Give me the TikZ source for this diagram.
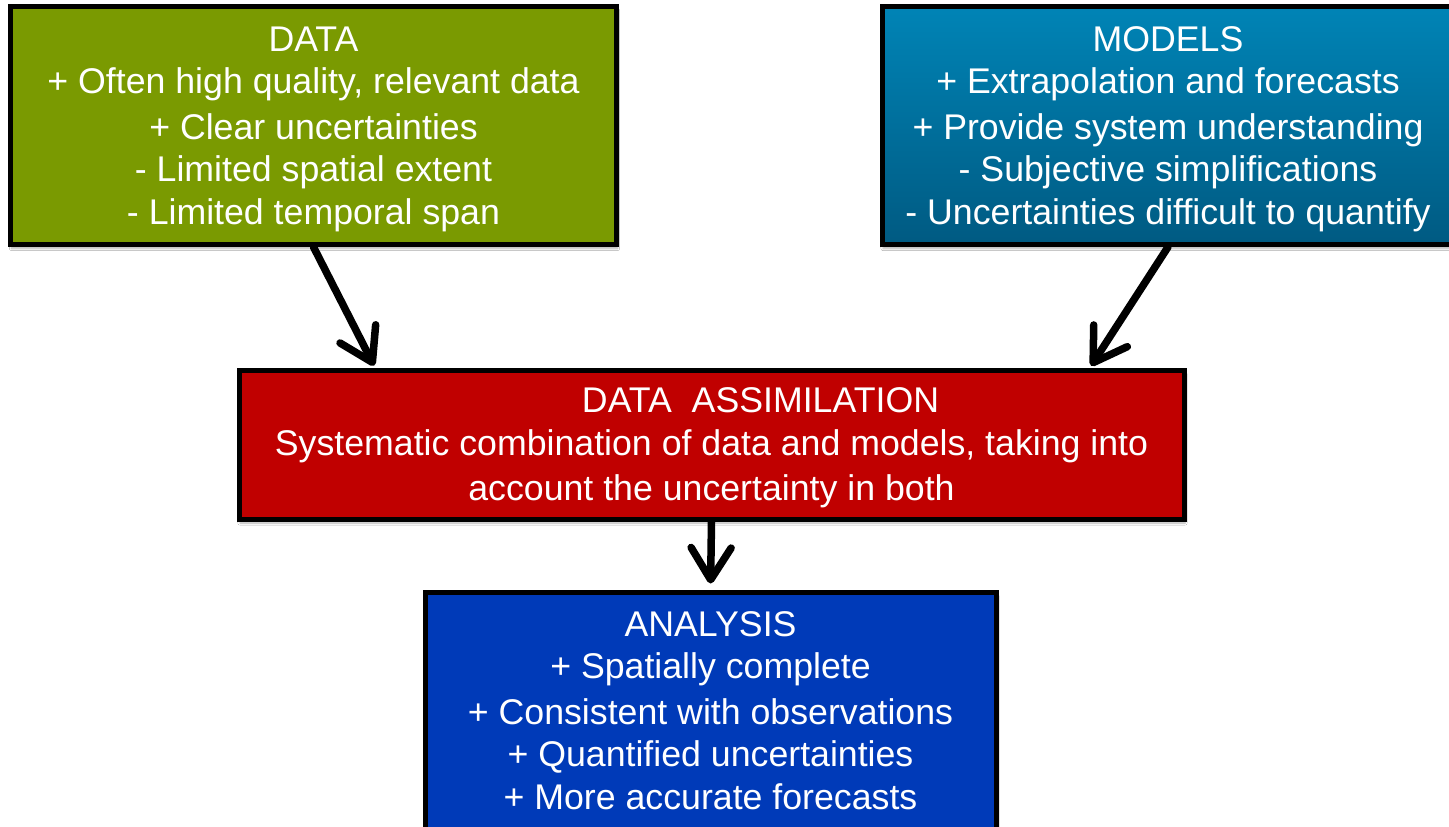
\documentclass[tikz,border=0pt]{standalone}
\usepackage{fontspec}
\setmainfont{Liberation Sans}
\usetikzlibrary{arrows.meta,shadows.blur}

\definecolor{datagreen}{HTML}{7A9A01}
\definecolor{modeltop}{HTML}{0084B6}
\definecolor{modelbot}{HTML}{005A82}
\definecolor{dared}{HTML}{C00000}
\definecolor{anblue}{HTML}{003AB8}

\tikzset{
  box/.style={rectangle, draw=black, line width=5pt, inner sep=0pt,
    text=white, align=center,
    font=\fontsize{35.7}{42.5}\selectfont,
    blur shadow={shadow xshift=1pt, shadow yshift=-4pt,
      shadow blur steps=6, shadow opacity=30}},
  flow/.style={line width=7.5pt, line cap=round, line join=round,
    -{Straight Barb[length=32pt,width=40pt,line cap=round,line join=round]}}
}

\begin{document}
\begin{tikzpicture}[x=1pt,y=-1pt]
  \useasboundingbox (0,0) rectangle (1449,827);
  \fill[white] (0,0) rectangle (1449,827);

  \node[box, fill=datagreen, minimum width=606pt, minimum height=238pt]
    (data) at (313.5,125.5)
    {DATA\\+ Often high quality, relevant data\\[3pt]+ Clear uncertainties\\
     - Limited spatial extent\\\smash{- Limited temporal span}};

  \node[box, top color=modeltop, bottom color=modelbot,
        minimum width=572pt, minimum height=238pt]
    (models) at (1168,125.5)
    {MODELS\\+ Extrapolation and forecasts\\[3pt]+ Provide system understanding\\
     - Subjective simplifications\\\smash{- Uncertainties difficult to quantify}};

  \node[box, fill=dared, minimum width=945pt, minimum height=149pt]
    (da) at (711.5,444.5)
    {\hspace*{98pt}DATA\ \ ASSIMILATION\\
     Systematic combination of data and models, taking into\\[3pt]
     \smash{account the uncertainty in both}};

  \node[box, fill=anblue, minimum width=571pt, minimum height=237pt]
    (an) at (710.5,710.5)
    {ANALYSIS\\+ Spatially complete\\[3pt]+ Consistent with observations\\
     + Quantified uncertainties\\+ More accurate forecasts};

  \draw[flow, shorten >=2pt] (data.south) -- ([xshift=-336.5pt]da.north);
  \draw[flow, shorten >=2pt] (models.south) -- ([xshift=378.5pt]da.north);
  \draw[flow, shorten >=6pt] (da.south) -- (an.north);
\end{tikzpicture}
\end{document}
